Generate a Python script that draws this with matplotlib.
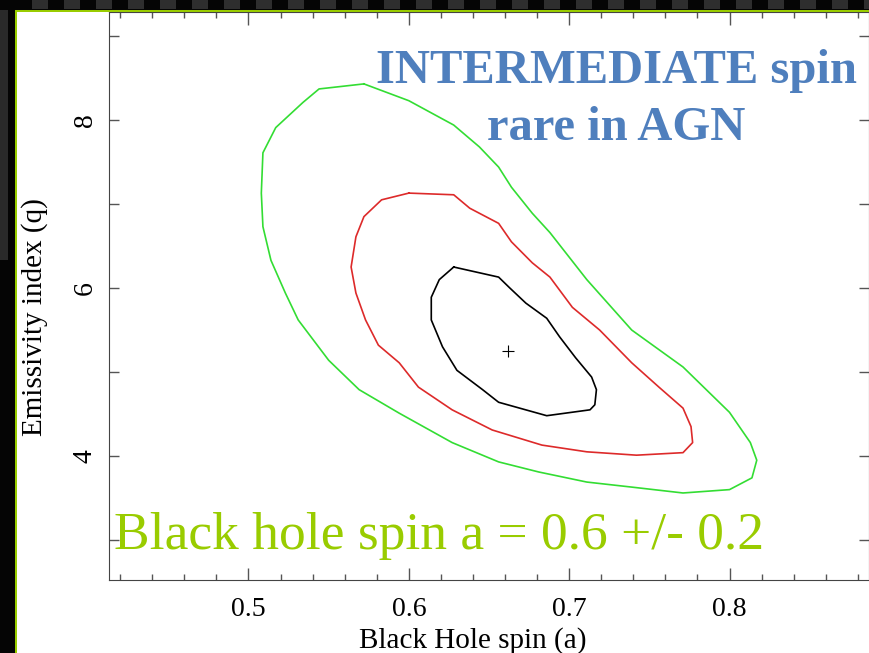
import matplotlib.pyplot as plt
from matplotlib.patches import Rectangle
from matplotlib.ticker import MultipleLocator

# contour levels: (spin a, emissivity q)
green_a = [0.572, 0.600, 0.628, 0.644, 0.656, 0.664, 0.677, 0.688, 0.711, 0.739,
           0.771, 0.800, 0.813, 0.817, 0.814, 0.800, 0.771, 0.739, 0.711, 0.681,
           0.656, 0.627, 0.594, 0.569, 0.550, 0.531, 0.523, 0.514, 0.509, 0.508,
           0.509, 0.517, 0.534, 0.544, 0.572]
green_q = [8.43, 8.23, 7.94, 7.68, 7.44, 7.20, 6.89, 6.66, 6.10, 5.50,
           5.06, 4.52, 4.16, 3.95, 3.74, 3.60, 3.56, 3.63, 3.69, 3.81,
           3.93, 4.16, 4.51, 4.79, 5.14, 5.62, 5.94, 6.33, 6.73, 7.13,
           7.61, 7.91, 8.21, 8.37, 8.43]

red_a = [0.600, 0.628, 0.638, 0.656, 0.664, 0.677, 0.688, 0.702, 0.719, 0.739,
         0.756, 0.771, 0.776, 0.777, 0.771, 0.742, 0.711, 0.683, 0.652, 0.627,
         0.606, 0.594, 0.581, 0.573, 0.567, 0.564, 0.567, 0.572, 0.583, 0.600]
red_q = [7.13, 7.11, 6.95, 6.77, 6.55, 6.30, 6.13, 5.77, 5.50, 5.11,
         4.82, 4.57, 4.35, 4.16, 4.04, 4.01, 4.05, 4.13, 4.31, 4.55,
         4.82, 5.11, 5.32, 5.62, 5.94, 6.25, 6.61, 6.85, 7.05, 7.13]

black_a = [0.628, 0.656, 0.663, 0.673, 0.686, 0.694, 0.704, 0.714, 0.717, 0.716,
           0.713, 0.686, 0.656, 0.646, 0.630, 0.621, 0.614, 0.614, 0.619, 0.628]
black_q = [6.25, 6.13, 6.00, 5.82, 5.64, 5.42, 5.17, 4.94, 4.79, 4.61,
           4.55, 4.48, 4.64, 4.79, 5.02, 5.30, 5.62, 5.89, 6.10, 6.25]

best_a, best_q = 0.662, 5.25

x_ticks = [0.5, 0.6, 0.7, 0.8]
y_ticks = [4, 6, 8]

SERIF = "Liberation Serif"

fig = plt.figure(figsize=(8.7, 6.53), dpi=100)

# slide frame: dark strips on the left and top, yellow-green rule
W, H = 870, 653
def px_rect(x, y, w, h, color):
    fig.patches.append(Rectangle((x / W, 1 - (y + h) / H), w / W, h / H,
                                 transform=fig.transFigure, color=color, lw=0))

px_rect(0, 0, 15, H, "#050505")
px_rect(0, 0, 8, 260, "#2a2a2a")
px_rect(0, 0, W, 10, "#050505")
for x0 in range(32, W, 32):
    px_rect(x0, 0, 16, 9, "#2e2e2e")
px_rect(15, 10, W - 15, 2, "#99cc00")
px_rect(15, 10, 2, H - 10, "#99cc00")

ax = fig.add_axes([109 / W, 1 - 580 / H, 760 / W, 568 / H])
ax.plot(green_a, green_q, color="#33dd33", lw=1.2)
ax.plot(red_a, red_q, color="#dd2a2a", lw=1.2)
ax.plot(black_a, black_q, color="black", lw=1.2)
ax.plot(best_a, best_q, marker="+", color="black", ms=8, mew=0.8)

ax.set_xlim(0.413, 0.887)
ax.set_ylim(2.524, 9.286)
ax.set_xticks(x_ticks)
ax.set_yticks(y_ticks)
ax.xaxis.set_minor_locator(MultipleLocator(0.02))
ax.yaxis.set_minor_locator(MultipleLocator(1))
ax.tick_params(which="both", direction="in", top=True, right=True,
               color="#555555", width=1)
ax.tick_params(which="major", axis="x", length=9)
ax.tick_params(which="minor", axis="x", length=4.5)
ax.tick_params(which="both", axis="y", length=7)
ax.tick_params(axis="both", labelsize=20)
ax.tick_params(axis="x", pad=12)
ax.tick_params(axis="y", pad=8)
for lab in ax.get_xticklabels() + ax.get_yticklabels():
    lab.set_fontfamily(SERIF)
for lab in ax.get_yticklabels():
    lab.set_rotation(90)
    lab.set_va("center")
for s in ax.spines.values():
    s.set_color("#444444")

ax.set_xlabel("Black Hole spin (a)", fontsize=21, family=SERIF, labelpad=4)
ax.set_ylabel("Emissivity index (q)", fontsize=21, family=SERIF, labelpad=18)
ax.xaxis.label.set_x(0.478)
ax.yaxis.label.set_y(0.463)

fig.text(616 / W, 1 - 83 / H, "INTERMEDIATE spin", ha="center", va="baseline",
         fontsize=35, fontweight="bold", family=SERIF, color="#4f7fbd")
fig.text(616 / W, 1 - 140 / H, "rare in AGN", ha="center", va="baseline",
         fontsize=35, fontweight="bold", family=SERIF, color="#4f7fbd")
fig.text(114 / W, 1 - 549 / H, "Black hole spin a = 0.6 +/- 0.2",
         ha="left", va="baseline", fontsize=38.5, family=SERIF, color="#99cc00")

fig.savefig("out.png", dpi=100)
